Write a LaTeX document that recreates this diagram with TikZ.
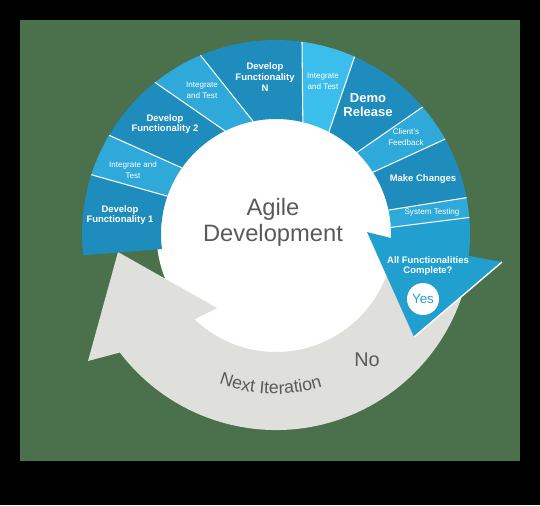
\documentclass[tikz,border=0pt]{standalone}
\usepackage{fontspec}
\setmainfont{Liberation Sans}
\usepackage{tikz}
\usetikzlibrary{decorations.text}

\definecolor{bggreen}{HTML}{4A704C}
\definecolor{devblue}{HTML}{1E8CBD}
\definecolor{intblue}{HTML}{2EA9D9}
\definecolor{topblue}{HTML}{3BBEEB}
\definecolor{arrowblue}{HTML}{21A0D0}
\definecolor{ringgray}{HTML}{DFDFDB}
\definecolor{txtgray}{HTML}{5A5A5A}
\definecolor{yesblue}{HTML}{2A9CCF}

\begin{document}
\begin{tikzpicture}[x=0.02cm, y=0.02cm,
  dev/.style={fill=devblue},
  integ/.style={fill=intblue},
  divider/.style={draw=white, line width=0.6pt},
  boldlabel/.style={text=white, align=center, font=\bfseries\fontsize{5.4}{6.1}\selectfont},
  thinlabel/.style={text=white, align=center, font=\fontsize{4.6}{6}\selectfont},
  yesdot/.style={circle, fill=white, minimum size=0.64cm, inner sep=0pt, text=yesblue, font=\fontsize{7.6}{8}\selectfont}]
\coordinate (corner) at (226,-28);
\coordinate (tip) at (138,-103);
\coordinate (barb) at (91,2);
\coordinate (gtip) at (-158,-18);
\coordinate (gouter) at (-188,-127);
\coordinate (ginner) at (-59,-74);
% frame
\fill[black] (-276,-271) rectangle (264,234);
\fill[bggreen] (-256,-227) rectangle (244,214);
\fill[white] (0,0) circle[radius=119.5];
% next iteration ring
\fill[ringgray] (-12:196) arc[start angle=-12, end angle=-142.8, radius=196] -- (gouter) -- (gtip) -- (ginner)
  -- (-133.7:118) arc[start angle=-133.7, end angle=-12, radius=118] -- cycle;
% blue ring
\fill[dev] (186.3:194) arc[start angle=186.3, end angle=162.2, radius=194] -- (160.8:115) arc[start angle=160.8, end angle=187.5, radius=115] -- cycle;
\fill[integ] (162.2:194) arc[start angle=162.2, end angle=149.4, radius=194] -- (144.9:115) arc[start angle=144.9, end angle=160.8, radius=115] -- cycle;
\fill[dev] (149.4:194) arc[start angle=149.4, end angle=128.6, radius=194] -- (116.3:115) arc[start angle=116.3, end angle=144.9, radius=115] -- cycle;
\fill[integ] (128.6:194) arc[start angle=128.6, end angle=112.9, radius=194] -- (101.5:115) arc[start angle=101.5, end angle=116.3, radius=115] -- cycle;
\fill[dev] (112.9:194) arc[start angle=112.9, end angle=82.3, radius=194] -- (76.5:115) arc[start angle=76.5, end angle=101.5, radius=115] -- cycle;
\fill[topblue] (82.3:194) arc[start angle=82.3, end angle=66.1, radius=194] -- (62.6:115) arc[start angle=62.6, end angle=76.5, radius=115] -- cycle;
\fill[dev] (66.1:194) arc[start angle=66.1, end angle=40.9, radius=194] -- (45.2:115) arc[start angle=45.2, end angle=62.6, radius=115] -- cycle;
\fill[integ] (40.9:194) arc[start angle=40.9, end angle=29.3, radius=194] -- (32.5:115) arc[start angle=32.5, end angle=45.2, radius=115] -- cycle;
\fill[dev] (29.3:194) arc[start angle=29.3, end angle=10.8, radius=194] -- (12:115) arc[start angle=12, end angle=32.5, radius=115] -- cycle;
\fill[integ] (10.8:194) arc[start angle=10.8, end angle=4.9, radius=194] -- (3.3:115) arc[start angle=3.3, end angle=12, radius=115] -- cycle;
\fill[arrowblue] (4.9:194) arc[start angle=4.9, end angle=-6.5, radius=194] -- (corner) -- (tip) -- (barb)
  -- (-2:115) arc[start angle=-2, end angle=3.3, radius=115] -- cycle;
\draw[white, line width=0.8pt] (corner) -- (tip);
% dividers
\draw[divider] (162.2:194) -- (160.8:115);
\draw[divider] (149.4:194) -- (144.9:115);
\draw[divider] (128.6:194) -- (116.3:115);
\draw[divider] (112.9:194) -- (101.5:115);
\draw[divider] (82.3:194) -- (76.5:115);
\draw[divider] (66.1:194) -- (62.6:115);
\draw[divider] (40.9:194) -- (45.2:115);
\draw[divider] (29.3:194) -- (32.5:115);
\draw[divider] (10.8:194) -- (12:115);
\draw[divider] (4.9:194) -- (3.3:115);
% labels
\node[boldlabel] (dev1) at (-156,19) {Develop\\Functionality 1};
\node[thinlabel] (test1) at (-143,64) {Integrate and\\Test};
\node[boldlabel] (dev2) at (-111,110) {Develop\\Functionality 2};
\node[thinlabel] (test2) at (-74,144) {Integrate\\and Test};
\node[boldlabel] (devn) at (-11,157) {Develop\\Functionality\\N};
\node[thinlabel] (test3) at (47,153) {Integrate\\and Test};
\node[boldlabel, font=\bfseries\fontsize{7.4}{7.6}\selectfont] (demo) at (92,129) {Demo\\Release};
\node[thinlabel] (feedback) at (130,97) {Client's\\Feedback};
\node[boldlabel] (changes) at (147,55) {Make Changes};
\node[thinlabel] (systest) at (156,22) {System Testing};
\node[boldlabel] (complete) at (152,-32) {All Functionalities\\Complete?};
\node[yesdot] (yes) at (147,-65) {Yes};
\node[text=txtgray, align=center, font=\fontsize{13.5}{15}\selectfont] (agile) at (-3,11.5) {Agile\\Development};
\node[text=txtgray, font=\fontsize{11.3}{13}\selectfont] (no) at (91,-126) {No};
\path[decorate, decoration={text along path, text align=center, text color=txtgray,
  text={|\fontsize{10.1}{12}\selectfont|Next Iteration}}] (-132:160) arc[start angle=-132, end angle=-52, radius=160];
\end{tikzpicture}
\end{document}
